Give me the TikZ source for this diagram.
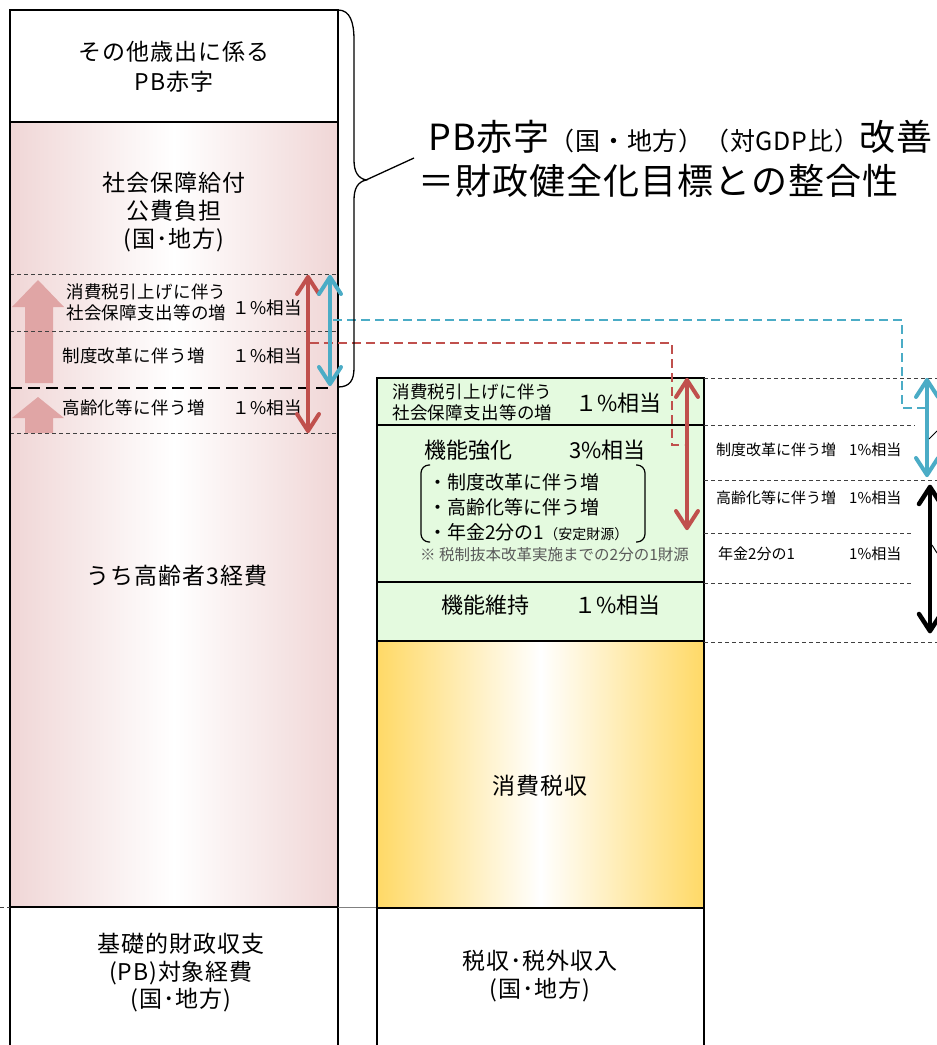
\documentclass[tikz,border=0pt]{standalone}
\usepackage{fontspec}
\setmainfont{Noto Sans CJK JP}
\usetikzlibrary{arrows.meta}
\definecolor{pinkedge}{HTML}{F0D6D6}
\definecolor{orangeedge}{HTML}{FFD966}
\definecolor{lightgreen}{HTML}{E4FADF}
\definecolor{redarr}{HTML}{C0504D}
\definecolor{bluearr}{HTML}{4BACC6}
\definecolor{blockpink}{HTML}{E0A5A5}
\definecolor{notegray}{HTML}{5A5A5A}
\definecolor{dashgray}{HTML}{404040}
\newcommand\fsz[2]{\fontsize{#1}{#2}\selectfont}
% chevron arrow tip: colour, line width, coordinate, direction (1 = points up, -1 = points down)
\newcommand\chev[4]{\draw[#1, line width=#2, line cap=round, line join=round, shift={(#3)}] (-11,17*#4) -- (0,0) -- (11,17*#4);}
\tikzset{
  colbox/.style={draw=black, line width=1.6pt},
  thindash/.style={draw=dashgray, line width=0.9pt, dash pattern=on 4pt off 3pt},
  thickdash/.style={draw=black, line width=2.6pt, dash pattern=on 12pt off 6pt},
  shaft/.style={line width=4pt, line cap=round},
  reddash/.style={draw=redarr, line width=1.8pt, dash pattern=on 9pt off 5pt},
  bluedash/.style={draw=bluearr, line width=1.8pt, dash pattern=on 9pt off 5pt},
  txt/.style={inner sep=0pt, align=center},
  ltxt/.style={inner sep=0pt, align=left, anchor=west},
  colfont/.style={font={\fsz{23}{28}\addfontfeature{LetterSpace=4}}},
  big/.style={font={\fsz{22}{28}}},
  mid/.style={font={\fsz{17.5}{21}\addfontfeature{LetterSpace=2}}},
  small/.style={font={\fsz{15}{18}}},
}
\begin{document}
\begin{tikzpicture}[x=1pt,y=-1pt]
\useasboundingbox (0,0) rectangle (937,1045);
\clip (0,0) rectangle (937,1045);
\fill[white] (0,0) rectangle (937,1045);

% ---------- left column ----------
\shade[left color=pinkedge, right color=pinkedge, middle color=white] (10,122) rectangle (338,907);
% pink block arrows
\fill[blockpink] (25,383) -- (25,307) -- (12,307) -- (38,280) -- (64,307) -- (53,307) -- (53,383) -- cycle;
\fill[blockpink] (25,433) -- (25,418) -- (12,418) -- (38,397) -- (64,418) -- (53,418) -- (53,433) -- cycle;
% dashed separators
\draw[thindash] (10,274) -- (338,274);
\draw[thindash] (10,331) -- (338,331);
\draw[thickdash] (10,388) -- (330,388);
\draw[thindash] (10,433) -- (338,433);
\draw[colbox] (10,10) rectangle (338,122);
\draw[colbox] (10,122) rectangle (338,907);
\draw[colbox] (10,1050) -- (10,907) -- (338,907) -- (338,1050);
\draw[thindash] (0,907) -- (10,907);
\draw[gray, line width=1pt] (338,907) -- (377,907);

\node[txt, colfont, font={\fsz{23}{30}\addfontfeature{LetterSpace=4}}] (otherpb) at (174,67) {その他歳出に係る\\PB赤字};
\node[txt, colfont] (shakai) at (174,212) {社会保障給付\\公費負担\\(国･地方)};
\node[txt, colfont] (koreisha) at (177,576) {うち高齢者3経費};
\node[txt, colfont, font={\fsz{23}{27.5}\addfontfeature{LetterSpace=4}}] (kiso) at (181,973) {基礎的財政収支\\(PB)対象経費\\(国･地方)};

\node[ltxt, mid] (l1a) at (66,302) {消費税引上げに伴う\\社会保障支出等の増};
\node[ltxt, mid] (l1b) at (232,308) {１\%相当};
\node[ltxt, mid] (l2a) at (62,356) {制度改革に伴う増};
\node[ltxt, mid] (l2b) at (232,356) {１\%相当};
\node[ltxt, mid] (l3a) at (62,408) {高齢化等に伴う増};
\node[ltxt, mid] (l3b) at (232,408) {１\%相当};

% ---------- middle column ----------
\fill[lightgreen] (377,378) rectangle (704,641);
\shade[left color=orangeedge, right color=orangeedge, middle color=white] (377,641) rectangle (704,908);
\draw[colbox] (377,378) rectangle (704,425);
\draw[colbox] (377,425) rectangle (704,582);
\draw[colbox] (377,582) rectangle (704,641);
\draw[colbox] (377,641) rectangle (704,908);
\draw[colbox] (377,1050) -- (377,908) -- (704,908) -- (704,1050);

\node[ltxt, mid] (m1a) at (392,402) {消費税引上げに伴う\\社会保障支出等の増};
\node[ltxt, big] (m1b) at (575,403) {１\%相当};
\node[ltxt, big] (m2a) at (424,450) {機能強化};
\node[ltxt, big] (m2b) at (569,450) {3\%相当};
\node[ltxt, font={\fsz{19}{25}}] (m2list) at (428,507) {・制度改革に伴う増\\・高齢化等に伴う増\\・年金2分の1{\fsz{14}{25}（安定財源）}};
\node[ltxt, text=notegray, font={\fsz{15.5}{18}}] (m2note) at (420,555) {※ 税制抜本改革実施までの2分の1財源};
\node[ltxt, big] (m3a) at (441,605) {機能維持};
\node[ltxt, big] (m3b) at (574,605) {１\%相当};
\node[txt, colfont] (shohi) at (540,786) {消費税収};
\node[txt, colfont] (zeishu) at (540,976) {税収･税外収入\\(国･地方)};

\draw[line width=1.2pt, rounded corners=8pt] (430,465) -- (421,465) -- (421,542) -- (430,542);
\draw[line width=1.2pt, rounded corners=8pt] (636,465) -- (645,465) -- (645,542) -- (636,542);

% ---------- right side ----------
\draw[thindash] (704,378) -- (937,378);
\draw[thindash] (704,425) -- (915,425);
\draw[thindash] (704,480) -- (937,480);
\draw[thindash] (704,533) -- (912,533);
\draw[thindash] (704,583) -- (912,583);
\draw[thindash] (704,642) -- (937,642);

\node[ltxt, small] (r1a) at (716,450) {制度改革に伴う増};
\node[ltxt, small] (r1b) at (849,450) {1\%相当};
\node[ltxt, small] (r2a) at (716,498) {高齢化等に伴う増};
\node[ltxt, small] (r2b) at (849,498) {1\%相当};
\node[ltxt, small] (r3a) at (718,554) {年金2分の1};
\node[ltxt, small] (r3b) at (849,554) {1\%相当};

% ---------- dashed connectors ----------
\coordinate (bd0) at (333,320);
\coordinate (bd1) at (902,320);
\coordinate (bd2) at (902,408);
\coordinate (bd3) at (925,408);
\draw[bluedash] (bd0) -- (bd1) -- (bd2) -- (bd3);
\coordinate (rd0) at (310,343);
\coordinate (rd1) at (672,343);
\coordinate (rd2) at (672,445);
\coordinate (rd3) at (684,445);
\draw[reddash] (rd0) -- (rd1) -- (rd2) -- (rd3);

% ---------- double arrows ----------
\coordinate (ra1) at (308,277);
\coordinate (ra2) at (308,431);
\draw[shaft, redarr] (ra1) -- (ra2);
\chev{redarr}{4pt}{ra1}{1}\chev{redarr}{4pt}{ra2}{-1}
\coordinate (ba1) at (330,277);
\coordinate (ba2) at (330,384);
\draw[shaft, bluearr] (ba1) -- (ba2);
\chev{bluearr}{4pt}{ba1}{1}\chev{bluearr}{4pt}{ba2}{-1}
\coordinate (ma1) at (687,380);
\coordinate (ma2) at (687,528);
\draw[shaft, redarr] (ma1) -- (ma2);
\chev{redarr}{4pt}{ma1}{1}\chev{redarr}{4pt}{ma2}{-1}
\coordinate (rb1) at (927,380);
\coordinate (rb2) at (927,475);
\draw[shaft, bluearr] (rb1) -- (rb2);
\chev{bluearr}{4pt}{rb1}{1}\chev{bluearr}{4pt}{rb2}{-1}
\coordinate (rk1) at (930,487);
\coordinate (rk2) at (930,631);
\draw[shaft, black, line width=4.5pt] (rk1) -- (rk2);
\chev{black}{4.5pt}{rk1}{1}\chev{black}{4.5pt}{rk2}{-1}
\draw[line width=1pt] (929,439) -- (937,431);
\draw[line width=1pt] (932,545) -- (937,553);

% ---------- brace and title ----------
\coordinate (bracetip) at (366,180);
\coordinate (leaderend) at (414,158);
\draw[line width=1.3pt] (338,10) .. controls (350,10) and (354,22) .. (354,40) -- (354,160)
  .. controls (354,172) and (358,178) .. (bracetip)
  .. controls (358,182) and (354,188) .. (354,200) -- (354,368)
  .. controls (354,380) and (350,387) .. (338,387);
\draw[line width=1.3pt] (bracetip) -- (leaderend);
\node[ltxt, font={\fsz{36}{40}\addfontfeature{LetterSpace=3}}] (title1) at (428,137) {PB赤字{\fsz{25}{28}（国・地方）（対GDP比）}改善};
\node[ltxt, font={\fsz{36}{40}\addfontfeature{LetterSpace=3}}] (title2) at (418,181) {＝財政健全化目標との整合性};
\end{tikzpicture}
\end{document}
